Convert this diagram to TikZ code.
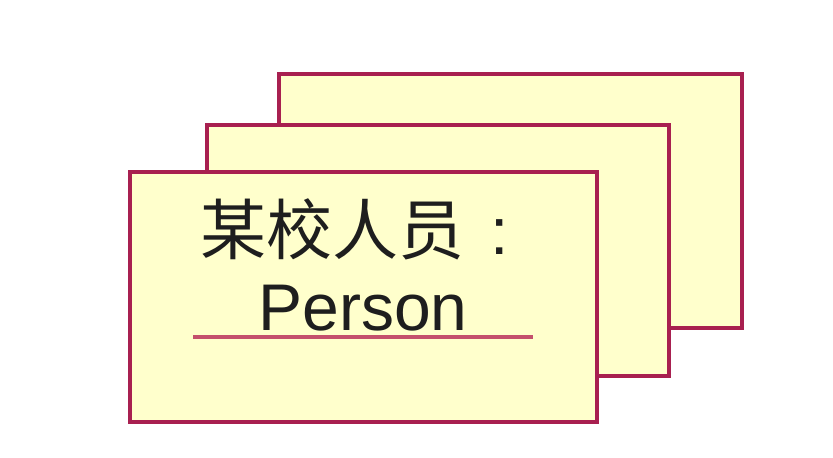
\documentclass[tikz,border=0pt]{standalone}
\usepackage{fontspec}
\setmainfont{Liberation Sans}
\newfontfamily\cjk{Noto Sans CJK SC}
\definecolor{edge}{HTML}{A82050}
\definecolor{paper}{HTML}{FFFFCC}
\definecolor{uline}{HTML}{C4506C}
\definecolor{ink}{HTML}{1E1E1E}
\tikzset{
  card/.style={draw=edge, fill=paper, line width=3.5pt, rectangle, inner sep=0pt},
  label/.style={text=ink, inner sep=0pt, font=\fontsize{66}{66}\selectfont}
}
\begin{document}
\begin{tikzpicture}[x=1pt,y=-1pt]
\useasboundingbox (0,0) rectangle (833,458);
\node[card, minimum width=463pt, minimum height=254pt] (back) at (510.5,201) {};
\node[card, minimum width=462pt, minimum height=251pt] (middle) at (438,250.5) {};
\node[card, minimum width=467pt, minimum height=250pt] (front) at (363.5,297) {};
\node[label, anchor=base west] (title) at (200,254) {{\cjk 某校人员}\hspace{26pt}:};
\node[label, anchor=base] (type) at (363,330) {Person};
\coordinate (ulA) at (193,337);
\coordinate (ulB) at (533,337);
\draw[uline, line width=4.5pt] (ulA) -- (ulB);
\end{tikzpicture}
\end{document}
